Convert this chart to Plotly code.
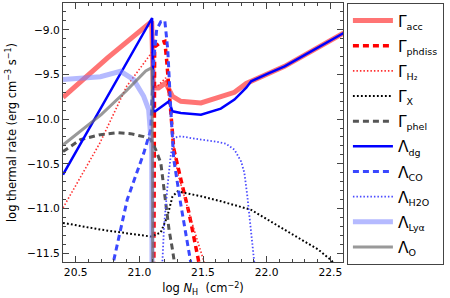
import plotly.graph_objects as go

# ---- data (log N_H, log rate) ----
acc_x = [20.40, 20.75, 21.097, 21.11, 21.15, 21.207, 21.26, 21.326, 21.484, 21.64, 21.747, 21.84, 21.878, 22.01, 22.141, 22.273, 22.405, 22.51, 22.61]
acc_y = [-9.756, -9.315, -8.906, -9.651, -9.651, -9.595, -9.745, -9.801, -9.819, -9.745, -9.70, -9.60, -9.577, -9.491, -9.409, -9.304, -9.197, -9.111, -9.032]

phdiss_x = [21.113, 21.117, 21.12, 21.16, 21.20, 21.215, 21.24, 21.27, 21.33, 21.39, 21.46, 21.48]
phdiss_y = [-12.0, -10.4, -9.19, -9.15, -9.13, -9.35, -9.78, -10.33, -10.70, -11.05, -11.55, -11.70]

h2_x = [20.40, 20.69, 20.90, 21.09, 21.10, 21.11, 21.141, 21.207, 21.233, 21.26, 21.30, 21.40, 21.50, 21.53]
h2_y = [-10.994, -10.267, -9.633, -9.26, -9.25, -9.65, -9.633, -9.539, -9.78, -10.20, -10.60, -11.10, -11.55, -11.70]

x_x = [20.40, 20.694, 21.09, 21.168, 21.22, 21.26, 21.30, 21.484, 21.642, 21.878, 22.139, 22.405, 22.51, 22.55]
x_y = [-11.162, -11.237, -11.315, -11.27, -11.088, -10.868, -10.81, -10.864, -10.92, -11.016, -11.237, -11.46, -11.584, -11.66]

phel_x = [20.40, 20.537, 20.694, 20.829, 20.93, 21.034, 21.09, 21.128, 21.168, 21.207, 21.233, 21.26, 21.278]
phel_y = [-10.364, -10.23, -10.174, -10.151, -10.163, -10.196, -10.23, -10.342, -10.487, -10.935, -11.237, -11.46, -11.63]

dg_x = [20.40, 21.10, 21.11, 21.125, 21.233, 21.26, 21.326, 21.484, 21.64, 21.747, 21.84, 21.878, 22.01, 22.141, 22.273, 22.405, 22.51, 22.61]
dg_y = [-10.622, -8.868, -9.913, -9.913, -9.80, -9.913, -9.931, -9.95, -9.883, -9.782, -9.648, -9.577, -9.491, -9.409, -9.304, -9.197, -9.111, -9.032]

co_x = [20.773, 20.80, 20.905, 21.036, 21.089, 21.113, 21.136, 21.168, 21.20, 21.223, 21.247, 21.27, 21.326, 21.39, 21.42]
co_y = [-11.686, -11.574, -10.90, -10.375, -10.12, -9.335, -8.998, -8.91, -8.898, -9.22, -9.894, -10.45, -10.96, -11.52, -11.74]

h2o_x = [21.18, 21.194, 21.221, 21.247, 21.273, 21.326, 21.484, 21.589, 21.68, 21.747, 21.80, 21.825, 21.847, 21.865, 21.886, 21.904, 21.91]
h2o_y = [-11.63, -11.20, -10.753, -10.40, -10.207, -10.193, -10.23, -10.249, -10.275, -10.342, -10.476, -10.602, -10.845, -11.088, -11.35, -11.595, -11.70]

lya_x = [20.40, 20.694, 20.852, 20.955, 21.034, 21.073, 21.097, 21.10]
lya_y = [-9.558, -9.525, -9.465, -9.558, -9.745, -9.894, -10.34, -12.0]

o_x = [20.40, 20.70, 20.90, 21.00, 21.05, 21.09, 21.10, 21.105]
o_y = [-10.29, -9.95, -9.68, -9.53, -9.46, -9.43, -9.45, -12.0]

names = ["Γ|acc", "Γ|phdiss", "Γ|H₂", "Γ|X", "Γ|phel", "Λ|dg", "Λ|CO", "Λ|H2O", "Λ|Lyα", "Λ|O"]

FONT = "DejaVu Sans"
DASH = "6px,4px"

styles = [
    ("rgba(255,70,70,0.75)", 5, "solid"),
    ("#ff0000", 3.5, DASH),
    ("#ff3030", 1.6, "1.5px,2px"),
    ("#000000", 2, "1.8px,2.2px"),
    ("#555555", 3, DASH),
    ("#0000ff", 2.5, "solid"),
    ("#3a48ff", 3, DASH),
    ("#4a4aff", 1.8, "1.5px,2px"),
    ("rgba(120,130,255,0.55)", 5, "solid"),
    ("rgba(110,110,110,0.7)", 3, "solid"),
]
data = [(acc_x, acc_y), (phdiss_x, phdiss_y), (h2_x, h2_y), (x_x, x_y), (phel_x, phel_y),
        (dg_x, dg_y), (co_x, co_y), (h2o_x, h2o_y), (lya_x, lya_y), (o_x, o_y)]


def legend_label(n):
    sym, sub = n.split("|")
    return f"{sym}<sub><span style='font-size:9.5px'>{sub}</span></sub>"


fig = go.Figure()
for i, (n, (xs, ys), (col, w, dash)) in enumerate(zip(names, data, styles)):
    fig.add_trace(go.Scatter(
        x=xs, y=ys, mode="lines", name=legend_label(n), legendgroup=f"g{i}",
        line=dict(color=col, width=w, dash=dash),
    ))

axis_common = dict(
    showline=True, linecolor="#444", linewidth=1, mirror="allticks",
    ticks="inside", ticklen=6, tickwidth=1, tickcolor="#444",
    showgrid=False, zeroline=False, automargin=False,
    tickfont=dict(family=FONT, size=10.7, color="black"),
    minor=dict(ticks="inside", ticklen=3, tickwidth=1, tickcolor="#444", showgrid=False),
)

fig.update_xaxes(
    range=[20.4, 22.6], tick0=20.5, dtick=0.5, tickformat=".1f",
    minor_dtick=0.1,
    title=dict(text="log <i>N</i><sub>H</sub>  (cm<sup>−2</sup>)", font=dict(family=FONT, size=11.5, color="black"), standoff=6),
    **axis_common,
)
fig.update_yaxes(
    range=[-11.6, -8.7], tick0=-9.0, dtick=0.5, tickformat=".1f",
    minor_dtick=0.1,
    title=dict(text="log thermal rate (erg cm<sup>−3</sup> s<sup>−1</sup>)", font=dict(family=FONT, size=11.5, color="black"), standoff=8),
    **axis_common,
)

fig.update_layout(
    width=450, height=298,
    margin=dict(l=63, r=107, t=3, b=36, autoexpand=False),
    paper_bgcolor="white", plot_bgcolor="white",
    font=dict(family=FONT, color="black"),
    showlegend=True,
    legend=dict(
        x=1.014, y=1, xanchor="left", yanchor="top",
        bordercolor="#444", borderwidth=1, bgcolor="white",
        font=dict(family=FONT, size=15.5, color="black"),
        tracegroupgap=2, itemwidth=40, maxheight=296,
    ),
)

fig.write_html("out.html", config={"displayModeBar": False},
               post_script="document.body.style.margin='0';document.body.style.padding='0';")
